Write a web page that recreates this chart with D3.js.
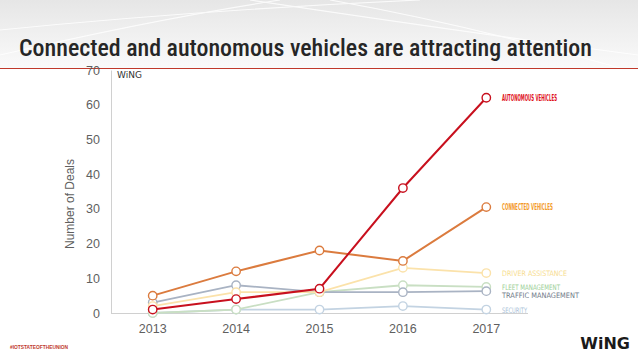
<!DOCTYPE html>
<html><head><meta charset="utf-8">
<script src="https://cdn.jsdelivr.net/npm/d3@7/dist/d3.min.js"></script>
<style>
html,body{margin:0;padding:0;background:#fff;}
svg{display:block;}
</style></head>
<body><svg id="c" width="638" height="359"></svg>
<script>
const years = ["2013","2014","2015","2016","2017"];
const yTicks = [0,10,20,30,40,50,60,70];
const autonomous = [1,4,7,36,62];
const connected = [5,12,18,15,30.5];
const driverAssist = [2,6,6,13,11.5];
const fleet = [0,1,6,8,7.5];
const traffic = [3,8,6,6,6.3];
const security = [0,1,1,2,1];
const seriesNames = ["SECURITY","FLEET MANAGEMENT","TRAFFIC MANAGEMENT","DRIVER ASSISTANCE","CONNECTED VEHICLES","AUTONOMOUS VEHICLES"];
const seriesValues = [security, fleet, traffic, driverAssist, connected, autonomous];
const lineColors = ["#c3d3e2","#c9dfc3","#a9b3c3","#fbe2aa","#db7b3e","#c8101e"];
const labelColors = ["#a9bfd8","#9ccf96","#707a88","#f7dd8f","#f39a2a","#e0101a"];
const labelOffsets = [0,0,4,0,0,0];
const labelWidths = [25,58,77,65,51,55];

const svg = d3.select("#c");
const defs = svg.append("defs");
const g1 = defs.append("linearGradient").attr("id","bg").attr("x1",0).attr("y1",0).attr("x2",0).attr("y2",1);
g1.append("stop").attr("offset","0%").attr("stop-color","#e6e6e6");
g1.append("stop").attr("offset","100%").attr("stop-color","#fafafa");
svg.append("rect").attr("x",0).attr("y",0).attr("width",638).attr("height",68).attr("fill","url(#bg)");
const deco = svg.append("g").attr("fill","none").attr("stroke","#ffffff").attr("stroke-width",1.2).attr("opacity",0.8);
deco.append("path").attr("d","M0,30 Q200,10 420,0");
deco.append("path").attr("d","M250,0 Q450,30 638,55");
deco.append("path").attr("d","M330,0 Q470,25 620,68");
deco.append("path").attr("d","M0,55 Q150,20 280,0");

svg.append("text").attr("x",19).attr("y",56)
  .attr("font-family","'Liberation Sans Narrow','Roboto Condensed','DejaVu Sans Condensed',sans-serif")
  .attr("font-size",24).attr("font-weight",500).attr("fill","#262626").attr("textLength",573).attr("lengthAdjust","spacingAndGlyphs")
  .text("Connected and autonomous vehicles are attracting attention");
svg.append("line").attr("x1",0).attr("x2",638).attr("y1",68.5).attr("y2",68.5).attr("stroke","#c0392b").attr("stroke-width",1.2);

const x = d3.scaleBand().domain(years).range([111,528]);
const y = d3.scaleLinear().domain([0,70]).range([313,70]);
const font = "'Liberation Sans','Arial',sans-serif";

const yAxis = svg.append("g").attr("transform","translate(111,0)")
  .call(d3.axisLeft(y).tickValues(yTicks).tickSize(0).tickPadding(11));
yAxis.select(".domain").attr("stroke","#d0d0d0");
yAxis.selectAll("text").attr("font-family",font).attr("font-size",12.5).attr("fill","#5f5f5f");

const xAxis = svg.append("g").attr("transform","translate(0,313)")
  .call(d3.axisBottom(x).tickSize(0).tickPadding(11));
xAxis.select(".domain").attr("stroke","#d0d0d0").attr("d","M111,0.5H528");
xAxis.selectAll("text").attr("font-family",font).attr("font-size",12.5).attr("fill","#5f5f5f");

svg.append("text").attr("transform","translate(74,204) rotate(-90)").attr("text-anchor","middle")
  .attr("font-family",font).attr("font-size",12).attr("fill","#5f5f5f").text("Number of Deals");

svg.append("text").attr("x",117).attr("y",78).attr("font-family","'DejaVu Sans',sans-serif")
  .attr("font-size",9).attr("fill","#333").text("WiNG");

const line = d3.line().x((d,i)=>x(years[i])+x.bandwidth()/2).y(d=>y(d));
seriesValues.forEach((vals,k)=>{
  const w = k>=4 ? 2 : 1.8;
  svg.append("path").datum(vals).attr("d",line).attr("fill","none")
    .attr("stroke",lineColors[k]).attr("stroke-width",w);
  svg.append("g").selectAll("circle").data(vals).join("circle")
    .attr("cx",(d,i)=>x(years[i])+x.bandwidth()/2).attr("cy",d=>y(d)).attr("r",4.2)
    .attr("fill","#fff").attr("stroke",lineColors[k]).attr("stroke-width",1.4);
  const last = vals[vals.length-1];
  const bold = k>=4;
  svg.append("text").attr("x",502).attr("y",y(last)+3.2+labelOffsets[k])
    .attr("font-family","'Liberation Sans Narrow','DejaVu Sans Condensed',sans-serif")
    .attr("font-size",bold?9:7.5).attr("font-weight",bold?"bold":"normal")
    .attr("fill",labelColors[k]).attr("textLength",labelWidths[k]).attr("lengthAdjust","spacingAndGlyphs")
    .text(seriesNames[k]);
});

svg.append("text").attr("x",10).attr("y",349).attr("font-family","'Liberation Sans Narrow',sans-serif")
  .attr("font-size",5.5).attr("font-weight","bold").attr("fill","#c0392b")
  .attr("textLength",58).attr("lengthAdjust","spacingAndGlyphs").text("#IOTSTATEOFTHEUNION");
svg.append("text").attr("x",630).attr("y",349).attr("text-anchor","end").attr("font-family","'DejaVu Sans',sans-serif")
  .attr("font-size",16).attr("font-weight","bold").attr("fill","#1a1a1a").text("WiNG");
</script></body></html>
